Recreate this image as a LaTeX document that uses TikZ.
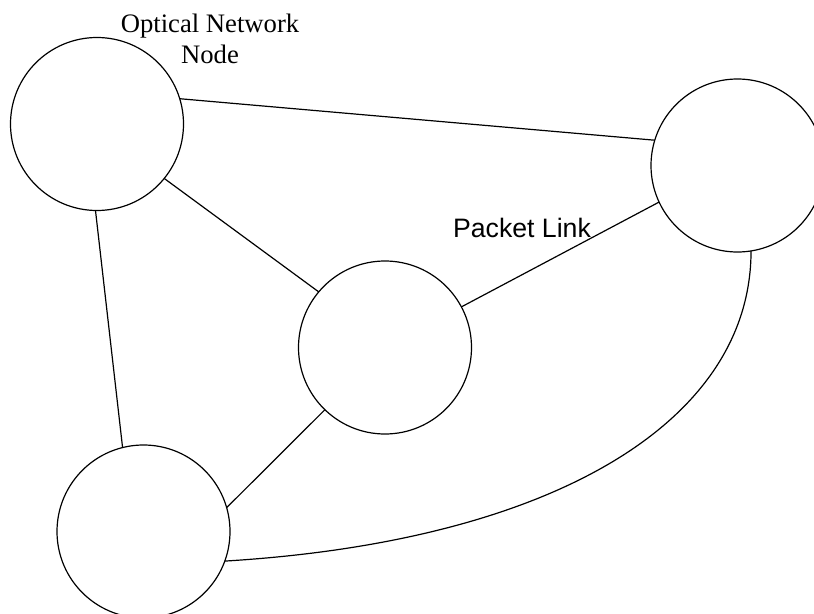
\documentclass[tikz,border=0pt]{standalone}
\usepackage{fontspec}
\setmainfont{Liberation Serif}
\newfontfamily\labelsans{Liberation Sans}
\begin{document}
\begin{tikzpicture}[x=0.75pt,y=-0.75pt,
  netnode/.style={circle,draw,line width=0.9pt,minimum size=129.75pt,inner sep=0pt,outer sep=0pt},
  link/.style={line width=0.9pt}]
\useasboundingbox (0,0) rectangle (814,614);

% optical network nodes
\node[netnode] (tl)  at (97,124)    {};
\node[netnode] (rt)  at (737.5,165.5) {};
\node[netnode] (ctr) at (385,347.5) {};
\node[netnode] (bl)  at (143.5,531.5) {};

% straight links
\draw[link] (tl.17)  -- (rt.163);
\draw[link] (tl.-39) -- (ctr.140);
\draw[link] (tl.-91) -- (bl.104);
\draw[link] (ctr.28) -- (rt.205);
\draw[link] (ctr.226) -- (bl.16);

% curved link
\draw[link] (rt.-81) .. controls +(0,170) and +(330,-20) .. (bl.-20);

% labels
\node[font=\fontsize{20}{23.25}\selectfont, align=center, inner sep=0pt]
  (caption) at (210,39.3) {Optical Network\\Node};
\node[font=\labelsans\fontsize{20}{24}\selectfont, inner sep=0pt, anchor=base]
  (pktlabel) at (522,237) {Packet Link};
\end{tikzpicture}
\end{document}
